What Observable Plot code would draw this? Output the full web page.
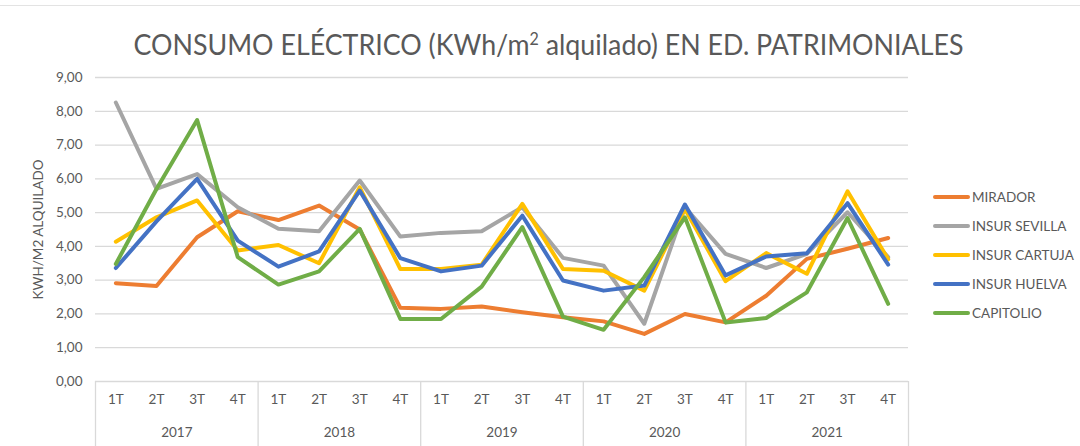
<!DOCTYPE html>
<html>
<head>
<meta charset="utf-8">
<script src="https://cdn.jsdelivr.net/npm/d3@7"></script>
<script src="https://cdn.jsdelivr.net/npm/@observablehq/plot@0.6"></script>
<style>
  html, body { margin: 0; padding: 0; background: #fff; }
  #wrap { position: relative; width: 1080px; height: 446px; overflow: hidden; font-family: Lato, "Open Sans", sans-serif; color: #595959; }
  #topline { position: absolute; left: 0; top: 5px; width: 1080px; height: 1px; background: #e3e3e3; }
  #title { position: absolute; left: 0; top: 24px; width: 1096px; text-align: center; font-size: 28px; line-height: 40px; white-space: nowrap; }
  #title span { display: inline-block; transform-origin: center; }
  #title sup { font-size: 60%; line-height: 0; vertical-align: 0.6em; }
  #chart { position: absolute; left: 0; top: 60px; }
  #legend { position: absolute; left: 933px; top: 182px; font-size: 13.5px; }
  .item { display: flex; align-items: center; height: 29px; }
  .sw { width: 37px; height: 4px; border-radius: 2px; margin-right: 2px; }
</style>
</head>
<body>
<div id="wrap">
  <div id="topline"></div>
  <div id="title"><span id="tt">CONSUMO ELÉCTRICO (KWh/m<sup>2</sup> alquilado) EN ED. PATRIMONIALES</span></div>
  <div id="chart"></div>
  <div id="legend"></div>
</div>
<script>
const years = ["2017", "2018", "2019", "2020", "2021"];
const quarters = ["1T", "2T", "3T", "4T"];
const seriesNames = ["MIRADOR", "INSUR SEVILLA", "INSUR CARTUJA", "INSUR HUELVA", "CAPITOLIO"];
const seriesColors = ["#ED7D31", "#A5A5A5", "#FFC000", "#4472C4", "#70AD47"];
const yTicks = [0, 1, 2, 3, 4, 5, 6, 7, 8, 9];

const mirador  = [2.91, 2.83, 4.27, 5.04, 4.78, 5.21, 4.50, 2.18, 2.15, 2.22, 2.05, 1.90, 1.78, 1.41, 2.00, 1.75, 2.54, 3.63, 3.93, 4.25];
const sevilla  = [8.26, 5.70, 6.14, 5.16, 4.52, 4.45, 5.95, 4.29, 4.40, 4.45, 5.16, 3.66, 3.43, 1.71, 5.16, 3.78, 3.36, 3.78, 5.01, 3.68];
const cartuja  = [4.14, 4.86, 5.36, 3.88, 4.04, 3.50, 5.75, 3.33, 3.33, 3.46, 5.26, 3.33, 3.28, 2.69, 5.11, 2.97, 3.80, 3.19, 5.63, 3.62];
const huelva   = [3.36, 4.74, 6.00, 4.17, 3.40, 3.85, 5.65, 3.65, 3.26, 3.43, 4.91, 2.99, 2.69, 2.84, 5.24, 3.14, 3.70, 3.80, 5.28, 3.46];
const capitolio= [3.48, 5.70, 7.74, 3.68, 2.87, 3.26, 4.52, 1.85, 1.85, 2.81, 4.57, 1.92, 1.53, 3.09, 4.86, 1.75, 1.88, 2.64, 4.84, 2.30];

const seriesValues = [mirador, sevilla, cartuja, huelva, capitolio];

const rows = [];
seriesValues.forEach((vals, s) => vals.forEach((v, i) => rows.push({series: seriesNames[s], i, v})));

const nCat = years.length * quarters.length;
const catIdx = d3.range(nCat);
const yearCenters = years.map((y, k) => ({year: y, x: k * quarters.length + (quarters.length - 1) / 2}));
const separators = d3.range(0, nCat + 1, quarters.length).map(i => i - 0.5);

const fmt = d => d.toFixed(2).replace(".", ",");
const grid = "#d9d9d9";

const chart = Plot.plot({
  width: 1080,
  height: 386,
  marginLeft: 95,
  marginRight: 172,
  marginTop: 17,
  marginBottom: 65,
  style: {fontFamily: "Lato, 'Open Sans', sans-serif", fontSize: "13.5px", color: "#595959", background: "transparent", overflow: "visible"},
  x: {type: "linear", domain: [-0.5, nCat - 0.5]},
  y: {domain: [0, 9]},
  color: {domain: seriesNames, range: seriesColors},
  marks: [
    Plot.ruleY(yTicks, {stroke: grid, strokeWidth: 1.3}),
    Plot.ruleX(separators, {y1: 0, y2: -1.93, stroke: grid, strokeWidth: 1.3}),
    Plot.axisY({ticks: yTicks, tickFormat: fmt, tickSize: 0, tickPadding: 13, label: "KWH/M2 ALQUILADO", labelAnchor: "center", labelArrow: "none", labelOffset: 62, fontSize: 13.5}),
    Plot.axisX({ticks: catIdx, tickFormat: i => quarters[i % quarters.length], tickSize: 0, tickPadding: 13, label: null, fontSize: 13.5}),
    Plot.text(yearCenters, {x: "x", text: "year", frameAnchor: "bottom", dy: 51, lineAnchor: "middle", fill: "#595959", fontSize: 13.5}),
    Plot.line(rows, {x: "i", y: "v", z: "series", stroke: "series", strokeWidth: 4, strokeLinejoin: "round", strokeLinecap: "round"})
  ]
});
document.getElementById("chart").appendChild(chart);

const legend = document.getElementById("legend");
seriesNames.forEach((n, k) => {
  const it = document.createElement("div");
  it.className = "item";
  it.innerHTML = `<div class="sw" style="background:${seriesColors[k]}"></div><span>${n}</span>`;
  legend.appendChild(it);
});

// fit title width to reference (~830px)
const tt = document.getElementById("tt");
const w = tt.getBoundingClientRect().width;
tt.style.transform = `scaleX(${830 / w})`;
</script>
</body>
</html>
